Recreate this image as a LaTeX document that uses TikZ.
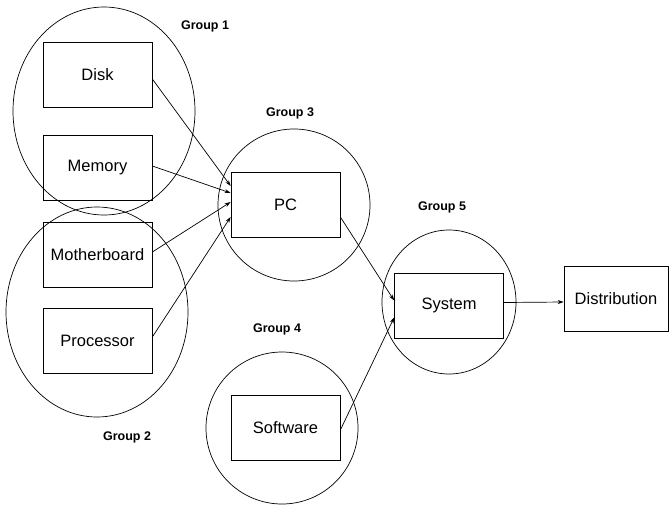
\documentclass[tikz,border=0pt]{standalone}
\usepackage{fontspec}
\setmainfont{Liberation Sans}
\usetikzlibrary{arrows.meta,shapes.geometric}

\tikzset{
  box/.style={draw, line width=0.7pt, minimum width=109pt, minimum height=65pt, inner sep=0pt, font=\fontsize{16.5}{18}\selectfont},
  grp/.style={draw, line width=0.7pt, ellipse, inner sep=0pt},
  grplabel/.style={font=\fontsize{12.5}{14}\selectfont\bfseries},
  arr/.style={-{Stealth[length=6pt,width=4pt]}, line width=0.7pt}
}

\begin{document}
\begin{tikzpicture}[x=1pt,y=-1pt]
\useasboundingbox (0,0) rectangle (669,504);

% groups
\draw (104,111)node[grp, minimum width=182pt, minimum height=208pt](g1){};
\draw (97,312)node[grp, minimum width=182pt, minimum height=210pt](g2){};
\draw (294,205)node[grp, minimum width=152pt, minimum height=152pt](g3){};
\draw (282,428)node[grp, minimum width=152pt, minimum height=152pt](g4){};
\draw (449,302)node[grp, minimum width=134pt, minimum height=144pt](g5){};

\draw (205,26)node[grplabel](l1){Group 1};
\draw (127,437)node[grplabel](l2){Group 2};
\draw (290,113)node[grplabel](l3){Group 3};
\draw (277,329)node[grplabel](l4){Group 4};
\draw (442,207)node[grplabel](l5){Group 5};

% boxes
\draw (97.5,75)node[box](disk){Disk};
\draw (97.5,168)node[box](mem){Memory};
\draw (97.5,255)node[box](mb){Motherboard};
\draw (97.5,341)node[box](cpu){Processor};
\draw (285.5,205)node[box](pc){PC};
\draw (285.5,428)node[box](sw){Software};
\draw (449,305.5)node[box](sys){System};
\draw (616,299)node[box, minimum width=104pt](dist){Distribution};

% arrows
\draw[arr] ([yshift=-4pt]disk.east) -- ([yshift=19pt]pc.west);
\draw[arr] ([yshift=2pt]mem.east) -- ([yshift=12pt]pc.west);
\draw[arr] ([yshift=3pt]mb.east) -- ([yshift=3pt]pc.west);
\draw[arr] ([yshift=4pt]cpu.east) -- ([yshift=-12pt]pc.west);

\draw[arr] ([yshift=-12pt]pc.east) -- ([yshift=5pt]sys.west);
\draw[arr] ([yshift=-2pt]sw.east) -- ([yshift=-12pt]sys.west);

\draw[arr] ([yshift=3pt]sys.east) -- ([yshift=-3pt]dist.west);
\end{tikzpicture}
\end{document}
